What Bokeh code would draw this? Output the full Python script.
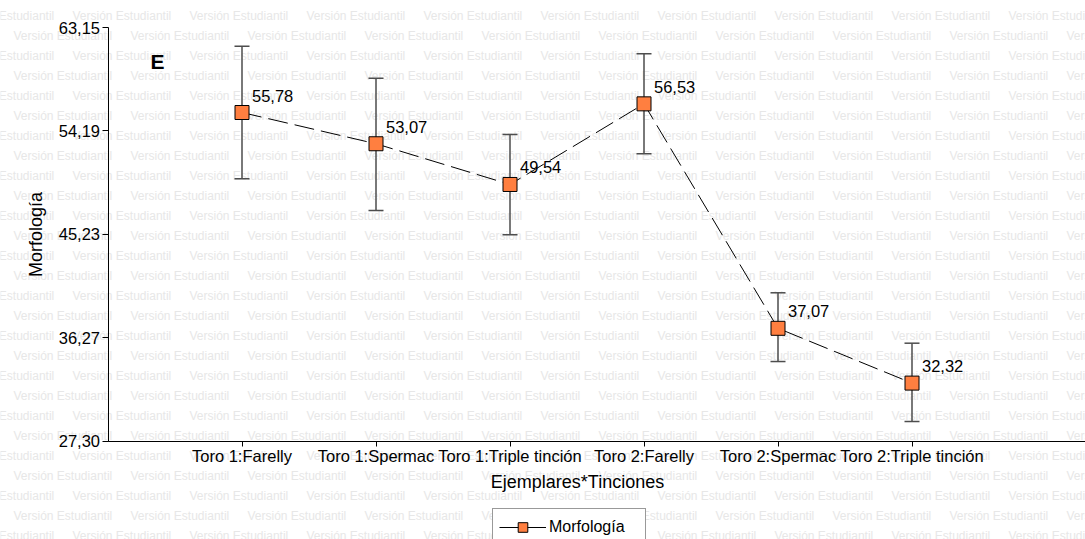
from bokeh.plotting import figure
from bokeh.models import (ColumnDataSource, LinearAxis, FixedTicker, Whisker, TeeHead,
                          Range1d, Legend, LegendItem, Label)
from bokeh.core.properties import value
from bokeh.embed import file_html
from bokeh.resources import INLINE

# ---------------- data ----------------
categories = ["Toro 1:Farelly", "Toro 1:Spermac", "Toro 1:Triple tinción",
              "Toro 2:Farelly", "Toro 2:Spermac", "Toro 2:Triple tinción"]
means = [55.78, 53.07, 49.54, 56.53, 37.07, 32.32]
lower = [50.03, 47.28, 45.18, 52.20, 34.19, 28.99]
upper = [61.53, 58.75, 53.87, 60.87, 40.15, 35.78]
mean_labels = ["55,78", "53,07", "49,54", "56,53", "37,07", "32,32"]
y_ticks = [27.30, 36.2625, 45.225, 54.1875, 63.15]
y_tick_labels = ["27,30", "36,27", "45,23", "54,19", "63,15"]
series_name = "Morfología"
x_title = "Ejemplares*Tinciones"
panel_tag = "E"
watermark = "Versión Estudiantil"

positions = list(range(1, len(categories) + 1))

# ---------------- geometry (canvas pixels) ----------------
W, H = 1085, 539
X0_PX = 107.5         # canvas px of x = 0
PX_PER_X = 134.0
Y_TOP_PX, Y_BOT_PX = 27.0, 440.5
Y_MIN, Y_MAX = y_ticks[0], y_ticks[-1]
PX_PER_Y = (Y_BOT_PX - Y_TOP_PX) / (Y_MAX - Y_MIN)

xs = -X0_PX / PX_PER_X
xe = (W - X0_PX) / PX_PER_X
ye = Y_MAX + Y_TOP_PX / PX_PER_Y
ys = Y_MIN - (H - Y_BOT_PX) / PX_PER_Y


def dx(cx):
    return xs + cx / PX_PER_X


def dy(cy):
    return ye - cy / PX_PER_Y


FONT = "Liberation Sans"

p = figure(width=W, height=H, x_range=Range1d(xs, xe), y_range=Range1d(ys, ye),
           x_axis_type=None, y_axis_type=None, toolbar_location=None,
           output_backend="svg", min_border=0, outline_line_color=None,
           background_fill_color="white", border_fill_color="white")

# ---------------- watermark ----------------
wx, wy, wt = [], [], []
for k in range(27):
    cy = 15 + 20 * k
    cx = -45 if k % 2 == 0 else 13
    while cx < W:
        wx.append(dx(cx))
        wy.append(dy(cy))
        wt.append(watermark)
        cx += 117
p.text(x=wx, y=wy, text=wt, text_font=value(FONT), text_font_size="12px",
       text_color="#e7e7e7", text_baseline="middle", text_align="left", level="image")

# ---------------- axes ----------------
yaxis = LinearAxis(fixed_location=0, bounds=(Y_MIN, Y_MAX),
                   ticker=FixedTicker(ticks=y_ticks),
                   major_label_overrides=dict(zip(y_ticks, y_tick_labels)),
                   axis_label=series_name)
xaxis = LinearAxis(fixed_location=Y_MIN, bounds=(0, len(categories) + 1),
                   ticker=FixedTicker(ticks=positions),
                   major_label_overrides=dict(zip(positions, categories)),
                   axis_label=x_title)
# plain continuation of the x axis line to the right edge
xaxis_ext = LinearAxis(fixed_location=Y_MIN, bounds=(0, xe),
                       ticker=FixedTicker(ticks=[]), major_label_text_font_size="0px",
                       major_tick_line_color=None, minor_tick_line_color=None,
                       axis_line_color="black")
for ax in (yaxis, xaxis):
    ax.axis_line_color = "black"
    ax.major_tick_line_color = "black"
    ax.minor_tick_line_color = None
    ax.major_tick_in = 0
    ax.major_label_text_font = FONT
    ax.major_label_text_font_size = "16.5px"
    ax.major_label_text_color = "black"
    ax.axis_label_text_font = FONT
    ax.axis_label_text_font_size = "18px"
    ax.axis_label_text_font_style = "normal"
    ax.axis_label_text_color = "black"
yaxis.major_tick_out = 6
yaxis.major_label_standoff = 2
yaxis.axis_label_standoff = 10
xaxis.major_tick_out = 5
xaxis.major_label_standoff = 1
xaxis.axis_label_standoff = 3
p.add_layout(yaxis, "left")
p.add_layout(xaxis_ext, "below")
p.add_layout(xaxis, "below")

# ---------------- data marks ----------------
src = ColumnDataSource(dict(x=positions, mean=means, lower=lower, upper=upper,
                            lab=mean_labels))

whisk = Whisker(source=src, base="x", upper="upper", lower="lower",
                line_color="#4d4d4d", line_width=1.5,
                upper_head=TeeHead(size=15, line_color="#4d4d4d", line_width=1.5),
                lower_head=TeeHead(size=15, line_color="#4d4d4d", line_width=1.5))
p.add_layout(whisk)

line_r = p.line("x", "mean", source=src, line_color="black", line_width=1,
                line_dash="20 7")
sc_r = p.scatter("x", "mean", source=src, marker="square", size=14,
                 fill_color="#ff7f40", line_color="black", line_width=1)

p.text("x", "mean", text="lab", source=src, x_offset=10, y_offset=-17,
       text_font=value(FONT), text_font_size="16.5px", text_color="black",
       text_baseline="middle", text_align="left")

p.add_layout(Label(x=dx(157), y=dy(60.5), text=panel_tag, text_font=FONT,
                   text_font_size="21px", text_font_style="bold",
                   text_color="black", text_align="center", text_baseline="middle"))

legend = Legend(items=[LegendItem(label=series_name, renderers=[line_r, sc_r])],
                location=(492, -7), orientation="vertical",
                padding=6, margin=0, spacing=0,
                glyph_width=47, glyph_height=24, label_standoff=3, label_width=90,
                label_text_font=FONT, label_text_font_size="16px",
                label_text_color="black",
                border_line_color="#333333", border_line_width=1,
                background_fill_color="white", background_fill_alpha=1.0)
p.add_layout(legend)

open("out.html", "w").write(file_html(p, INLINE))
